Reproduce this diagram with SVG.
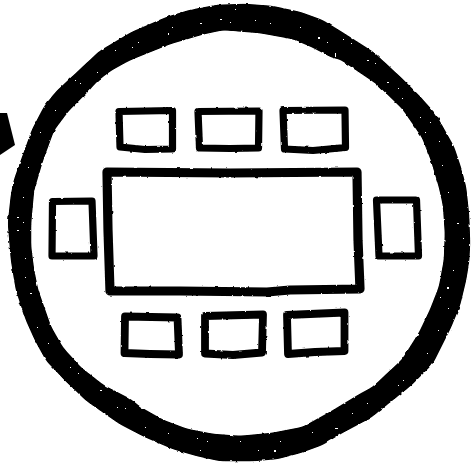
<svg xmlns="http://www.w3.org/2000/svg" width="471" height="467" viewBox="0 0 471 467">
<style>
.s{fill:none;stroke:#000;stroke-linejoin:round;stroke-linecap:round}
.seat{stroke-width:7.2}
.seat2{stroke-width:7.8}
</style>
<defs>
<filter id="ink" filterUnits="userSpaceOnUse" x="0" y="0" width="471" height="467">
<feGaussianBlur in="SourceGraphic" stdDeviation="3" result="b"/>
<feComponentTransfer in="b" result="t"><feFuncA type="linear" slope="10" intercept="-3"/></feComponentTransfer>
<feTurbulence type="fractalNoise" baseFrequency="0.18" numOctaves="2" seed="4" result="n"/>
<feDisplacementMap in="t" in2="n" scale="2.5" xChannelSelector="R" yChannelSelector="G"/>
<feGaussianBlur stdDeviation="0.4"/>
</filter>
<filter id="rough" filterUnits="userSpaceOnUse" x="0" y="0" width="471" height="467">
<feTurbulence type="fractalNoise" baseFrequency="0.2" numOctaves="2" seed="9" result="n"/>
<feDisplacementMap in="SourceGraphic" in2="n" scale="2.2" xChannelSelector="R" yChannelSelector="G"/>
<feGaussianBlur stdDeviation="0.4"/>
</filter>
</defs>
<rect width="471" height="467" fill="#fff"/>
<g id="ring">
<path filter="url(#ink)" fill="#000" fill-rule="evenodd" d="M217 6L245 5L272 7L300 13L322 21L340 32L373 53L400 78L420 98L435 115L453 147L460 168L465 187L468 215L469 243L468 262L465 280L459 305L450 327L432 363L410 385L370 417L340 433L322 444L300 452L277 458L253 460L220 460L197 455L173 448L145 436L120 423L87 400L66 380L47 360L36 340L27 320L17 290L12 260L9 223L12 195L15 180L24 155L33 130L45 107L57 92L70 80L100 52L132 33L167 18L190 11ZM223 29L204 33L170 43L140 55L128 60L110 70L97 80L88 90L68 110L53 130L42 160L33 190L30 223L30 247L33 270L37 290L50 327L62 348L80 368L103 386L130 400L140 408L163 421L187 430L213 435L240 437L272 434L303 428L332 412L360 395L373 388L403 360L420 333L431 310L440 287L445 260L446 233L444 205L440 187L432 160L423 137L403 108L377 83L340 58L333 57L312 46L293 38L260 32Z"/>
<path fill="#fff" d="M132 47h1v1h-1zM138 42h1v1h-1zM168 33h1v2h-1zM172 27h1v1h-1zM200 23h2v1h-2zM220 19h2v1h-2zM230 22h1v1h-1zM235 9h1v1h-1zM255 20h1v1h-1zM270 23h1v1h-1zM300 27h1v1h-1zM318 37h2v2h-2zM327 42h1v1h-1zM335 53h1v4h-1zM97 72h1v1h-1zM75 80h1v1h-1zM115 50h1v1h-1zM367 60h2v1h-2zM375 63h1v1h-1zM387 82h2v1h-2zM398 88h1v1h-1zM402 98h1v1h-1zM420 117h1v1h-1zM430 122h1v1h-1zM425 132h1v1h-1zM439 141h1v1h-1zM442 165h1v1h-1zM343 39h1v1h-1zM351 43h1v1h-1zM457 223h2v1h-2zM463 238h1v1h-1zM453 270h1v1h-1zM447 287h2v2h-2zM440 297h1v1h-1zM448 308h1v1h-1zM438 330h1v1h-1zM427 353h1v1h-1zM403 380h1v1h-1zM398 385h1v1h-1zM367 403h1v1h-1zM352 413h1v1h-1zM448 192h1v1h-1zM335 428h3v1h-3zM312 432h1v1h-1zM280 441h1v1h-1zM274 450h2v2h-2zM258 450h1v1h-1zM240 441h1v1h-1zM207 441h1v1h-1zM197 438h1v1h-1zM168 433h1v1h-1zM145 427h1v1h-1zM125 408h1v1h-1zM200 450h1v1h-1zM17 217h2v1h-2zM17 230h2v1h-2zM23 222h1v1h-1zM23 197h1v1h-1zM25 258h1v1h-1zM25 277h1v1h-1zM30 293h2v1h-2zM37 327h1v1h-1zM48 343h1v1h-1zM70 367h1v1h-1zM78 373h1v1h-1zM100 390h2v1h-2zM117 407h1v1h-1zM40 132h1v1h-1zM55 110h1v1h-1zM80 83h1v1h-1zM28 167h1v1h-1z"/>
</g>
<g id="pointer"><polygon points="0,113 7,113 15,145 0,155" fill="#000"/></g>
<g filter="url(#rough)">
<g id="table"><path class="s" stroke-width="9.2" d="M107 172L230 173L357 172L358 240L360 289L290 290L267 292L180 291L110 291L108 230Z"/></g>
<g id="seat-top-1"><path class="s seat" d="M119 111.5L172.5 110.5L172.5 149L145 149.5L120 147Z"/></g>
<g id="seat-top-2"><path class="s seat" d="M198 111.5L259 111L258.5 148L230 148.5L199.5 148Z"/></g>
<g id="seat-top-3"><path class="s seat" d="M283 110.5L345 110L345.5 147.5L313 150.5L284.5 149Z"/></g>
<g id="seat-left"><path class="s seat" d="M52.5 201.5L92 201L94 256L52 256Z"/></g>
<g id="seat-right"><path class="s seat" d="M376.5 200L416.5 200L418.5 256L379 256Z"/></g>
<g id="seat-bottom-1"><path class="s seat2" d="M125 316.5L177.5 317.5L179 354.5L150 354L124.5 353Z"/></g>
<g id="seat-bottom-2"><path class="s seat2" d="M205 316L263 314.5L262 352.5L233 355L205 353.5Z"/></g>
<g id="seat-bottom-3"><path class="s seat2" d="M287 315L344.5 312.5L344.5 351L315 352L288 354Z"/></g>
</g>
</svg>
